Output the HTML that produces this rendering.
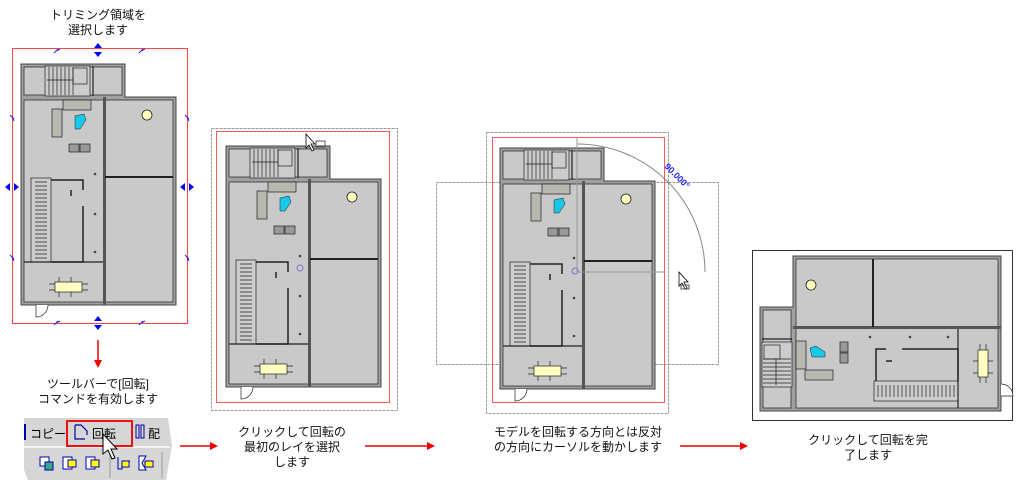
<!DOCTYPE html>
<html><head><meta charset="utf-8"><style>
body{margin:0;background:#fff;width:1025px;height:489px;overflow:hidden;position:relative;font-family:"Liberation Sans","Noto Sans CJK JP",sans-serif}
.t{position:absolute;font-size:12px;line-height:15px;text-align:center;color:#111;transform:translateX(-50%);white-space:nowrap}
svg{position:absolute;left:0;top:0}
</style></head><body>
<svg width="1025" height="489" viewBox="0 0 1025 489">
<defs>
<g id="plan">
 <path d="M0 0H104V33H155V241H0Z" fill="#a0a0a0" stroke="#444" stroke-width="1"/>
 <rect x="3" y="3" width="98" height="28" fill="#c9c9c9" stroke="#333" stroke-width=".8"/>
 <rect x="3" y="36" width="149" height="202" fill="#c9c9c9" stroke="#333" stroke-width=".8"/>
 <rect x="82" y="33" width="3" height="208" fill="#555"/>
 <rect x="84" y="112" width="68" height="2" fill="#222"/>
 <g stroke="#222" stroke-width=".7" fill="#ccc">
  <rect x="24" y="2" width="45" height="30"/>
  <path d="M28 3V31M32 3V31M36 3V31M40 3V31M44 3V31M48 3V31M52 3V31M26 16H52"/>
  <rect x="52" y="4" width="14" height="16" fill="none"/>
  <path d="M72 2V32" fill="none" stroke-width="1.2"/>
  <rect x="10" y="114" width="20" height="84"/>
  <path d="M14 118H26M14 122H26M14 126H26M14 130H26M14 134H26M14 138H26M14 142H26M14 146H26M14 150H26M14 154H26M14 158H26M14 162H26M14 166H26M14 170H26M14 174H26M14 178H26M14 182H26M14 186H26M14 190H26M14 194H26"/>
  <path d="M30 116H62V126M50 126V132M62 142V198H30" fill="none" stroke-width="1.5"/>
  <path d="M3 198H82" fill="none" stroke-width="1.2"/>
  <rect x="31" y="45" width="10" height="28" fill="#b8b8b0"/>
  <rect x="42" y="36" width="28" height="10" fill="#b8b8b0"/>
  <rect x="48" y="80" width="10" height="8" fill="#999"/>
  <rect x="59" y="80" width="10" height="8" fill="#999"/>
  <rect x="34" y="218" width="27" height="10" fill="#ffffc0"/>
  <path d="M28 220h6M28 226h6M61 220h6M61 226h6M38 213v5M50 213v5M38 228v5M50 228v5"/>
  <path d="M15 241v12a12 12 0 0 0 12 -12" fill="#fff"/>
 </g>
 <path d="M54 52l9-2 2 6-6 9-5 0z" fill="#19c8e8" stroke="#222" stroke-width=".5"/>
 <circle cx="126" cy="51" r="5" fill="#ffffc0" stroke="#222" stroke-width=".8"/>
 <g fill="#444"><circle cx="74" cy="110" r="1.3"/><circle cx="74" cy="150" r="1.3"/><circle cx="74" cy="188" r="1.3"/></g>
</g>
<g id="sq" fill="none" stroke="#22f" stroke-width="1"><path d="M-3 2 L1 -2 L-1 0 L3 -2"/></g>
<g id="ar" fill="#00f"><path d="M0 -7L4 -2H-4ZM0 7L4 2H-4Z"/></g>
</defs>

<rect x="12.5" y="48.5" width="175" height="275" fill="none" stroke="#f44" stroke-width="1"/>
<use href="#plan" transform="translate(21,64)"/>
<use href="#ar" x="98" y="50"/><use href="#ar" x="98" y="323"/>
<use href="#ar" transform="translate(12,187) rotate(90)"/><use href="#ar" transform="translate(187,187) rotate(90)"/>
<use href="#sq" x="57" y="51"/><use href="#sq" x="142" y="51"/><use href="#sq" x="57" y="323"/><use href="#sq" x="142" y="323"/>
<use href="#sq" transform="translate(12,118) rotate(90)"/><use href="#sq" transform="translate(187,118) rotate(90)"/>
<use href="#sq" transform="translate(12,258) rotate(90)"/><use href="#sq" transform="translate(187,258) rotate(90)"/>
<path d="M98 340V362" stroke="#e00" stroke-width="1.5"/><path d="M94 360L98 368L102 360Z" fill="#e00"/>

<path d="M24 418H168L172 446L166 480H28L24 470Z" fill="#d6d6d6"/>
<path d="M24 447H170" stroke="#f4f4f4" stroke-width="2"/>
<rect x="24" y="424" width="2" height="16" fill="#00a"/>
<text x="30" y="438" font-size="12" font-family="Liberation Sans,Noto Sans CJK JP,sans-serif">コピー</text>
<rect x="67" y="421" width="65" height="25" fill="none" stroke="#e11" stroke-width="2"/>
<path d="M75 425v14h10M75 425h6l6 6v4" fill="none" stroke="#00a" stroke-width="1.2"/>
<text x="92" y="438" font-size="12" font-family="Liberation Sans,Noto Sans CJK JP,sans-serif">回転</text>
<rect x="136" y="425" width="3" height="13" fill="none" stroke="#00a"/><rect x="141" y="425" width="3" height="13" fill="none" stroke="#00a"/>
<text x="148" y="438" font-size="12" font-family="Liberation Sans,Noto Sans CJK JP,sans-serif">配</text>
<g stroke="#00a" stroke-width="1">
 <rect x="40" y="457" width="9" height="9" fill="#fff"/><rect x="45" y="462" width="8" height="8" fill="#3a8"/>
 <rect x="63" y="457" width="9" height="12" fill="#fff"/><rect x="68" y="460" width="8" height="7" fill="#ff0"/>
 <rect x="86" y="457" width="9" height="12" fill="#fff"/><rect x="91" y="460" width="8" height="7" fill="#ff0"/>
 <path d="M118 457v12h4v-8h8" fill="none"/><rect x="122" y="461" width="7" height="6" fill="#ff0"/>
 <path d="M139 456h7l-4 7 4 7h-7z" fill="#fff"/><rect x="145" y="461" width="8" height="6" fill="#ff0"/>
</g>
<path d="M110 452v26M162 452v26" stroke="#999"/>
<path d="M103 434l0 20 5-4 4 9 3-1-4-9 6 0z" fill="#fff" stroke="#000" stroke-width="1"/>

<path d="M180 446H210M365 446H427M680 446H740" stroke="#e00" stroke-width="1.5"/>
<path d="M210 442L218 446L210 450ZM427 442L435 446L427 450ZM740 442L748 446L740 450Z" fill="#e00"/>

<rect x="211.5" y="128.5" width="186" height="282" fill="none" stroke="#999" stroke-dasharray="3 1"/>
<rect x="216.5" y="131.5" width="173" height="271" fill="none" stroke="#f55"/>
<use href="#plan" transform="translate(226,146)"/>
<path d="M306 134l0 14 3-3 3 6 2-1-3-6 4 0z" fill="#fff" stroke="#000" stroke-width=".8"/>
<rect x="316" y="141" width="9" height="6" fill="none" stroke="#555"/>
<circle cx="300" cy="268" r="3" fill="none" stroke="#77c"/>

<rect x="436.5" y="182.5" width="282" height="182" fill="none" stroke="#999" stroke-dasharray="3 1"/>
<rect x="486.5" y="132.5" width="182" height="281" fill="none" stroke="#999" stroke-dasharray="3 1"/>
<rect x="492.5" y="137.5" width="172" height="265" fill="none" stroke="#f55"/>
<use href="#plan" transform="translate(500,148)"/>
<path d="M577 144A128 128 0 0 1 705 272" fill="none" stroke="#888"/>
<path d="M577 137V272M577 272H664" stroke="#999"/>
<circle cx="575" cy="271" r="3" fill="none" stroke="#77c"/>
<text x="664" y="167" font-size="9" fill="#22f" font-weight="bold" transform="rotate(45 664 167)" font-family="Liberation Sans,sans-serif">90.000°</text>
<path d="M679 272l0 14 3-3 3 6 2-1-3-6 4 0z" fill="#fff" stroke="#000" stroke-width=".8"/>
<rect x="681" y="285" width="8" height="4" fill="none" stroke="#555"/>

<rect x="752.5" y="250.5" width="260" height="170" fill="none" stroke="#333"/>
<use href="#plan" transform="matrix(0,-1,1,0,760,411)"/>
</svg>

<div class="t" style="left:98px;top:8px">トリミング領域を<br>選択します</div>
<div class="t" style="left:98px;top:377px">ツールバーで[回転]<br>コマンドを有効します</div>
<div class="t" style="left:292px;top:425px">クリックして回転の<br>最初のレイを選択<br>します</div>
<div class="t" style="left:578px;top:425px">モデルを回転する方向とは反対<br>の方向にカーソルを動かします</div>
<div class="t" style="left:868px;top:433px">クリックして回転を完<br>了します</div>
</body></html>
